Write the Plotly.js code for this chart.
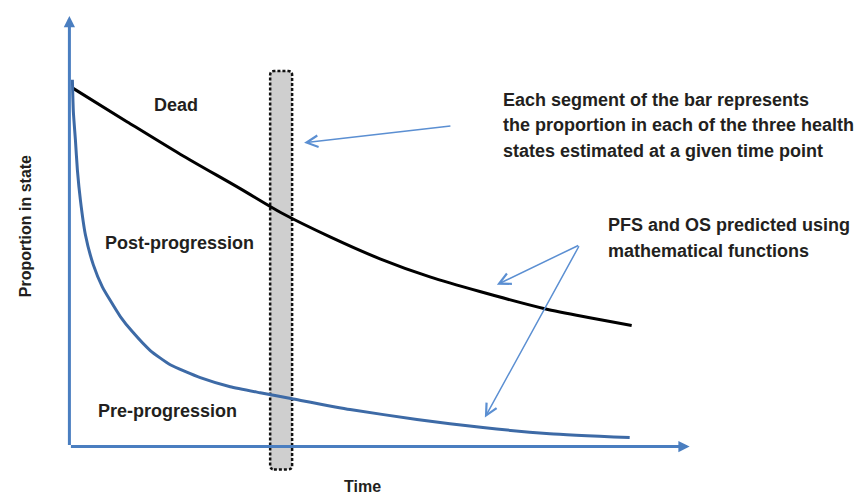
<!DOCTYPE html>
<html>
<head>
<meta charset="utf-8">
<script src="https://cdn.plot.ly/plotly-3.0.1.min.js"></script>
<style>html,body{margin:0;padding:0;background:#fff;}#chart{width:863px;height:494px;}</style>
</head>
<body>
<div id="chart"></div>
<script>
// Overall survival (OS) curve
const osTime = [0.48, 9.34, 17.87, 27.54, 34.14, 42.03, 50.08, 58.13, 66.18, 76.65, 83.90, 90.66];
const osProp = [0.833, 0.754, 0.679, 0.599, 0.543, 0.487, 0.436, 0.394, 0.360, 0.320, 0.299, 0.281];
// Progression-free survival (PFS) curve
const pfsTime = [0.48, 0.64, 0.97, 1.29, 1.77, 2.58, 3.86, 5.31, 6.60, 8.21, 10.14, 13.04, 16.26, 21.10, 25.93, 30.76, 35.91, 45.25, 56.04, 66.67, 77.46, 90.34];
const pfsProp = [0.852, 0.777, 0.712, 0.642, 0.573, 0.492, 0.422, 0.371, 0.339, 0.302, 0.267, 0.223, 0.190, 0.160, 0.139, 0.125, 0.111, 0.086, 0.063, 0.044, 0.030, 0.021];
// Time point at which the bar is drawn
const barTime = 34.14;
const barTop = 0.872;
const barBottom = -0.053;
// Text labels
const stateLabels = ["Dead", "Post-progression", "Pre-progression"];
const noteBarLines = ["Each segment of the bar represents", "the proportion in each of the three health", "states estimated at a given time point"];
const noteFnLines = ["PFS and OS predicted using", "mathematical functions"];
const xTitle = "Time";
const yTitle = "Proportion in state";

const FONT = "'Liberation Sans', Arial, sans-serif";
const AXIS_BLUE = "#4a7ec0";
const PFS_BLUE = "#3d6aa6";
const ARROW_BLUE = "#5b8fd2";
const TEXT = "#231f20";

const traces = [
  {x: osTime, y: osProp, mode: "lines", line: {color: "#000000", width: 3, shape: "spline", smoothing: 0.8}, hoverinfo: "skip", name: "OS"},
  {x: pfsTime, y: pfsProp, mode: "lines", line: {color: PFS_BLUE, width: 3, shape: "spline", smoothing: 0.5}, hoverinfo: "skip", name: "PFS"}
];

// plot-area geometry (pixels) used to place text
const ML = 56.6, MR = 160.6, MT = 16, MB = 12.5;
const PW = 863 - ML - MR, PH = 494 - MT - MB;
const XR = [-2, 102], YR = [-0.08, 1.0];
const pxToT = px => XR[0] + (px - ML) / PW * (XR[1] - XR[0]);
const pyToP = py => YR[1] - (py - MT) / PH * (YR[1] - YR[0]);

function arrow(x0, y0, x1, y1, opts) {
  return Object.assign({x: x1, y: y1, ax: x0, ay: y0, xref: "x", yref: "y", axref: "x", ayref: "y",
    text: "", showarrow: true}, opts);
}
function label(txt, px, py, size, anchor) {
  return {x: (px - ML) / PW, y: 1 - (py - MT) / PH, xref: "paper", yref: "paper", text: "<b>" + txt + "</b>", showarrow: false,
    xanchor: anchor || "center", yanchor: "middle", align: "left",
    font: {family: FONT, size: size, color: TEXT}};
}

const annotations = [
  // axes as arrows
  arrow(0, 0, 100, 0, {arrowcolor: AXIS_BLUE, arrowwidth: 3, arrowhead: 2, arrowsize: 0.75}),
  arrow(0, 0, 0, 1, {arrowcolor: AXIS_BLUE, arrowwidth: 3, arrowhead: 2, arrowsize: 0.75}),
  // pointer arrows
  arrow(pxToT(452), pyToP(126), pxToT(304), pyToP(143), {arrowcolor: ARROW_BLUE, arrowwidth: 1.5, arrowhead: 5, arrowsize: 1.5}),
  arrow(pxToT(580), pyToP(245), pxToT(497), pyToP(285), {arrowcolor: ARROW_BLUE, arrowwidth: 1.5, arrowhead: 5, arrowsize: 1.5}),
  arrow(pxToT(580), pyToP(245), pxToT(485), pyToP(418), {arrowcolor: ARROW_BLUE, arrowwidth: 1.5, arrowhead: 5, arrowsize: 1.5}),
  // state labels
  label(stateLabels[0], 176, 105, 18),
  label(stateLabels[1], 179, 243, 18),
  label(stateLabels[2], 167, 411, 18),
  // notes
  label(noteBarLines[0], 501, 100, 18, "left"),
  label(noteBarLines[1], 501, 125.5, 18, "left"),
  label(noteBarLines[2], 501, 151, 18, "left"),
  label(noteFnLines[0], 606, 225, 18, "left"),
  label(noteFnLines[1], 606, 251, 18, "left"),
  // axis titles
  Object.assign(label(yTitle, 25, 226, 16), {textangle: -90}),
  label(xTitle, 362, 487, 16)
];

const rx = 0.6, ry = 0.009, bx0 = barTime - 1.77, bx1 = barTime + 1.77;
const barPath = `M${bx0 + rx},${barBottom} L${bx1 - rx},${barBottom} Q${bx1},${barBottom} ${bx1},${barBottom + ry} ` +
  `L${bx1},${barTop - ry} Q${bx1},${barTop} ${bx1 - rx},${barTop} L${bx0 + rx},${barTop} Q${bx0},${barTop} ${bx0},${barTop - ry} ` +
  `L${bx0},${barBottom + ry} Q${bx0},${barBottom} ${bx0 + rx},${barBottom} Z`;

const layout = {
  width: 863, height: 494,
  margin: {l: ML, r: MR, t: MT, b: MB, pad: 0},
  paper_bgcolor: "#ffffff", plot_bgcolor: "#ffffff",
  showlegend: false,
  xaxis: {range: XR, visible: false, fixedrange: true},
  yaxis: {range: YR, visible: false, fixedrange: true},
  shapes: [{
    type: "path", xref: "x", yref: "y", layer: "below", path: barPath,
    fillcolor: "#cfcfcf", line: {color: "#111111", width: 2.5, dash: "3px,2px"}
  }],
  annotations: annotations
};

Plotly.newPlot("chart", traces, layout, {staticPlot: true, displayModeBar: false});
</script>
</body>
</html>
